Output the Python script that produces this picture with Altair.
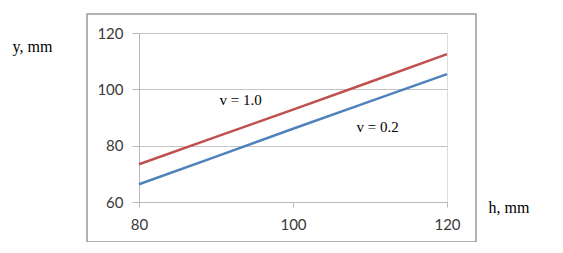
import altair as alt
import pandas as pd

h_vals = [80, 90, 100, 110, 120]
y_v10 = [73.4, 83.1, 92.8, 102.6, 112.5]
y_v02 = [66.3, 76.1, 86.0, 95.7, 105.4]
series_names = ["v = 1.0", "v = 0.2"]
series_colors = ["#c0504d", "#4f81bd"]

label_text = ["v = 1.0", "v = 0.2"]
label_x = [93.2, 111.0]
label_y = [96.2, 86.7]

x_ticks = [80, 100, 120]
y_ticks = [60, 80, 100, 120]

rows = []
for name, ys in zip(series_names, [y_v10, y_v02]):
    for hx, yy in zip(h_vals, ys):
        rows.append({"h": hx, "y": yy, "series": name})
df = pd.DataFrame(rows)
lab = pd.DataFrame({"text": label_text, "h": label_x, "y": label_y})

W, H = 308, 169

xscale = alt.Scale(domain=[80, 120], nice=False, zero=False)
yscale = alt.Scale(domain=[60, 120], nice=False, zero=False)

lines = alt.Chart(df).mark_line(strokeWidth=2.5).encode(
    x=alt.X("h:Q", scale=xscale, axis=alt.Axis(
        values=x_ticks, grid=False, title="h, mm", titleAngle=0,
        titleX=349, titleY=5, titleAlign="left", titleBaseline="middle",
        titleFont="Liberation Serif", titleFontSize=16, titleFontWeight="normal",
        titleColor="#000000", labelFont="Lato", labelFontSize=15,
        labelColor="#3a3a3a", labelPadding=10, tickSize=5,
        domainColor="#b8b8b8", tickColor="#b8b8b8", labelFlush=False)),
    y=alt.Y("y:Q", scale=yscale, axis=alt.Axis(
        values=y_ticks, grid=True, gridColor="#c4c4c4", title="y, mm",
        titleAngle=0, titleX=-127, titleY=13, titleAlign="left",
        titleBaseline="middle", titleFont="Liberation Serif", titleFontSize=16,
        titleFontWeight="normal", titleColor="#000000", labelFont="Lato",
        labelFontSize=15, labelColor="#3a3a3a", labelPadding=9, tickSize=7,
        domainColor="#b8b8b8", tickColor="#b8b8b8")),
    color=alt.Color("series:N", scale=alt.Scale(domain=series_names, range=series_colors), legend=None),
)

texts = alt.Chart(lab).mark_text(font="Liberation Serif", fontSize=15, color="#000000", align="center", baseline="middle").encode(
    x=alt.X("h:Q", scale=xscale),
    y=alt.Y("y:Q", scale=yscale),
    text="text:N",
)

frame = alt.Chart(pd.DataFrame({"a": [0]})).mark_rect(fill=None, stroke="#9a9a9a", strokeWidth=1.5).encode(
    x=alt.value(-52), x2=alt.value(337), y=alt.value(-19), y2=alt.value(209)
)

chart = alt.layer(frame, lines, texts).properties(
    width=W, height=H,
    autosize=alt.AutoSizeParams(type="none"),
    padding={"left": 131, "top": 25, "right": 100, "bottom": 40},
).configure_view(stroke=None).configure(background="#ffffff")

chart.save("out.html", embed_options={"renderer": "svg", "actions": False})
